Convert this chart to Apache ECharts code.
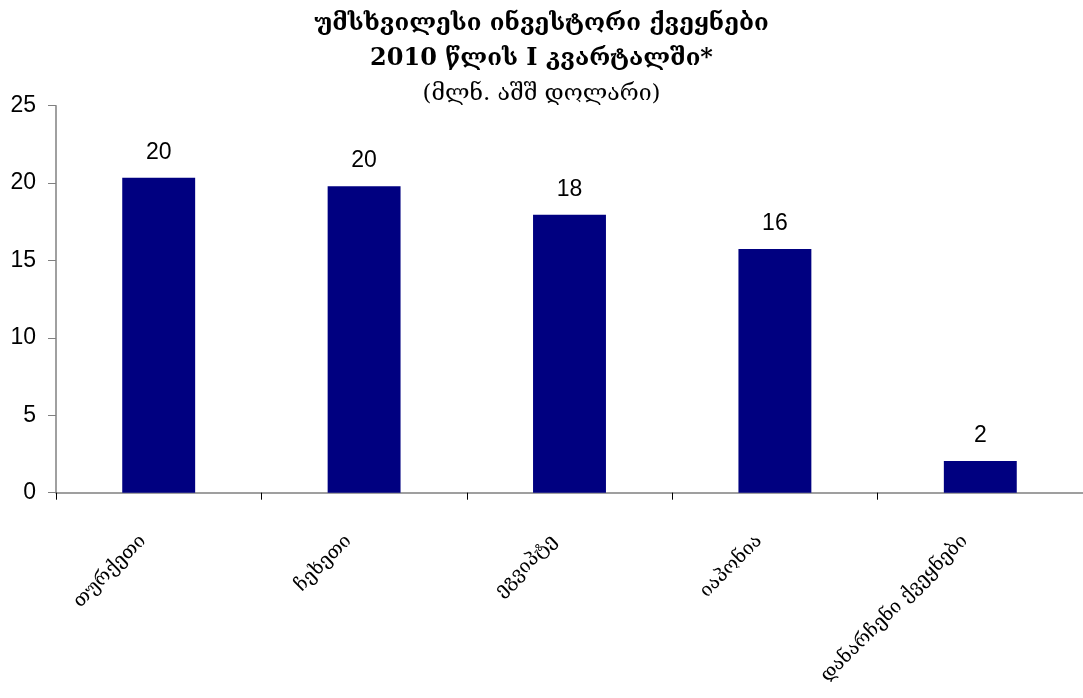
<!DOCTYPE html>
<html><head><meta charset="utf-8">
<script src="https://cdn.jsdelivr.net/npm/echarts@6/dist/echarts.min.js"></script>
<style>html,body{margin:0;padding:0;background:#fff}#c{width:1083px;height:698px}</style>
</head><body><div id="c"></div>
<script>
const titleLine1 = "უმსხვილესი ინვესტორი ქვეყნები";
const titleLine2 = "2010 წლის I კვარტალში*";
const titleLine3 = "(მლნ. აშშ დოლარი)";
const categories = ["თურქეთი", "ჩეხეთი", "ეგვიპტე", "იაპონია", "დანარჩენი ქვეყნები"];
const values = [20.35, 19.8, 17.95, 15.75, 2.05];

const chart = echarts.init(document.getElementById('c'));
const serif = "'DejaVu Serif', serif";
const sans = "'Liberation Sans', Arial, sans-serif";
chart.setOption({
  backgroundColor: '#fff',
  animation: false,
  title: [
    {text: titleLine1, left: 'center', top: 7, textStyle: {fontFamily: serif, fontSize: 24, fontWeight: 'bold', color: '#000'}},
    {text: titleLine2, left: 'center', top: 42, textStyle: {fontFamily: serif, fontSize: 24, fontWeight: 'bold', color: '#000'}},
    {text: titleLine3, left: 'center', top: 78, textStyle: {fontFamily: serif, fontSize: 23, fontWeight: 'normal', color: '#000'}}
  ],
  grid: {left: 56, right: -3, top: 105.7, bottom: 205.3, containLabel: false},
  xAxis: {
    type: 'category', data: categories, boundaryGap: true,
    axisLine: {lineStyle: {color: '#808080', width: 1.5}},
    axisTick: {show: true, length: 7, lineStyle: {color: '#000'}},
    axisLabel: {rotate: 45, margin: 30, padding: [0, 22, 0, 0], fontFamily: serif, fontSize: 19, color: '#000', interval: 0}
  },
  yAxis: {
    type: 'value', min: 0, max: 25, interval: 5,
    axisLine: {show: true, lineStyle: {color: '#808080', width: 1.5}},
    axisTick: {show: true, length: 8, lineStyle: {color: '#808080'}},
    splitLine: {show: false},
    axisLabel: {fontFamily: sans, fontSize: 23, color: '#000', margin: 20}
  },
  series: [{
    type: 'bar', data: values, barWidth: '35.5%',
    itemStyle: {color: '#000080'},
    label: {show: true, position: 'top', distance: 14, fontFamily: sans, fontSize: 23, color: '#000',
      formatter: p => Math.round(p.value)}
  }]
});
</script></body></html>
